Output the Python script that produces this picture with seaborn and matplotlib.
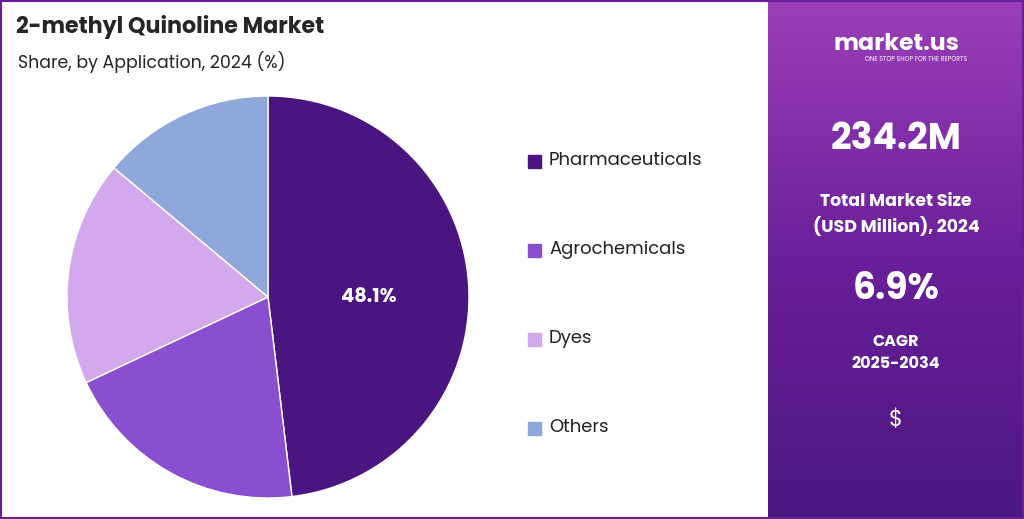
import numpy as np
import matplotlib.pyplot as plt
import seaborn as sns
from matplotlib.patches import Rectangle
from matplotlib.colors import LinearSegmentedColormap

sns.set_theme(style="white")
plt.rcParams['font.family'] = ['Poppins', 'Lato', 'DejaVu Sans']

categories = ["Pharmaceuticals", "Agrochemicals", "Dyes", "Others"]
shares = [48.1, 19.9, 18.1, 13.9]
colors = ["#4a1580", "#8a4fd0", "#d3a8ec", "#8fa8dc"]

W, H = 1024, 519
fig = plt.figure(figsize=(W / 100, H / 100), dpi=100)
fig.patch.set_facecolor("white")

# right panel gradient
bg = fig.add_axes([768 / W, 0, 256 / W, 1])
grad = np.linspace(0, 1, 256).reshape(-1, 1)
cmap = LinearSegmentedColormap.from_list("p", ["#9a3fb8", "#6a1f9a", "#4a1780"])
bg.imshow(grad, aspect="auto", cmap=cmap, extent=[0, 1, 0, 1])
bg.axis("off")
bg.set_xlim(0, 1); bg.set_ylim(0, 1)
bg.text(0.5, 0.915, "market.us", color="white", fontsize=17, fontweight="bold", ha="center", va="center")
bg.text(0.58, 0.885, "ONE STOP SHOP FOR THE REPORTS", color="white", fontsize=4.5, ha="center", va="center")
bg.text(0.5, 0.73, "234.2M", color="white", fontsize=26, fontweight="bold", ha="center", va="center")
bg.text(0.5, 0.585, "Total Market Size\n(USD Million), 2024", color="white", fontsize=12.5,
        fontweight="bold", ha="center", va="center", linespacing=1.4)
bg.text(0.5, 0.44, "6.9%", color="white", fontsize=26, fontweight="bold", ha="center", va="center")
bg.text(0.5, 0.32, "CAGR\n2025-2034", color="white", fontsize=11.5, fontweight="bold",
        ha="center", va="center", linespacing=1.5)
bg.text(0.5, 0.19, "$", color="white", fontsize=16, ha="center", va="center")

# pie
ax = fig.add_axes([66 / W, 20 / H, 404 / W, 404 / H])
wedges, _ = ax.pie(shares, colors=colors, startangle=90, counterclock=False,
                   wedgeprops=dict(edgecolor="white", linewidth=1))
ax.text(0.5, 0.0, f"{shares[0]}%", color="white", fontsize=14, fontweight="bold",
        ha="center", va="center")
ax.set_xlim(-1.005, 1.005)
ax.set_ylim(-1.005, 1.005)
ax.set_aspect("equal")

# legend
for i, (c, col) in enumerate(zip(categories, colors)):
    y = 1 - (161 + i * 89) / H
    fig.patches.append(Rectangle((528 / W, y - 7 / H), 13 / W, 13 / H, color=col,
                                 transform=fig.transFigure, figure=fig))
    fig.text(549 / W, y, c, fontsize=13, color="#222222", va="center")

fig.text(16 / W, 1 - 27 / H, "2-methyl Quinoline Market", fontsize=16, fontweight="bold", va="center")
fig.text(18 / W, 1 - 62 / H, "Share, by Application, 2024 (%)", fontsize=12.5, va="center")
fig.patches.append(Rectangle((0.001, 0.002), 0.998, 0.996, fill=False, edgecolor="#6a1f9a",
                             linewidth=1.5, transform=fig.transFigure, figure=fig))

fig.savefig("out.png", dpi=100)
